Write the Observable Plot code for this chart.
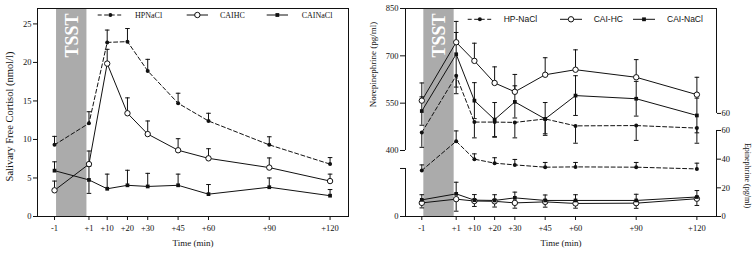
<!DOCTYPE html>
<html>
<head>
<meta charset="utf-8">
<script src="https://cdn.jsdelivr.net/npm/d3@7"></script>
<script src="https://cdn.jsdelivr.net/npm/@observablehq/plot@0.6"></script>
<style>
  html, body { margin: 0; padding: 0; background: #fff; }
  #chart { position: relative; width: 754px; height: 254px; overflow: hidden; background: #fff; }
  #chart > svg { position: absolute; top: 0; }
</style>
</head>
<body>
<div id="chart"></div>
<script>
// ---------- shared categories ----------
const timeLabels = ["-1", "+1", "+10", "+20", "+30", "+45", "+60", "+90", "+120"];
const minutesFromTsstStart = [-1, 16, 25, 35, 45, 60, 75, 105, 135];
const tsstWindow = [0, 15];
const tsstLabel = "TSST";
const xTitle = "Time (min)";
const legendLeftNames = ["HPNaCl", "CAIHC", "CAINaCl"];
const legendRightNames = ["HP-NaCl", "CAI-HC", "CAI-NaCl"];

// ---------- left panel: salivary free cortisol ----------
const cortisolTitle = "Salivary Free Cortisol (nmol/l)";
const cortisolTicks = [0, 5, 10, 15, 20, 25];
const cortisolDomain = [0, 27];
const cortisolHP = [9.3, 12.1, 22.6, 22.7, 18.9, 14.7, 12.4, 9.3, 6.8];
const cortisolHPErrUp = [1.1, 1.5, 1.6, 1.7, 1.5, 1.3, 1.0, 1.05, 0.85];
const cortisolCaiHC = [3.4, 6.8, 19.85, 13.4, 10.7, 8.6, 7.55, 6.35, 4.6];
const cortisolCaiHCErrUp = [1.2, 1.7, 1.85, 2.0, 1.7, 1.5, 1.25, 1.25, 0.9];
const cortisolCaiNaCl = [5.95, 4.75, 3.6, 4.05, 3.9, 4.05, 2.9, 3.8, 2.7];
const cortisolCaiNaClErrUp = [1.15, 1.75, 1.9, 1.95, 1.7, 1.45, 1.25, 1.2, 0.8];
const cortisolCaiNaClErrDown = [0, 1.75, 0, 0, 0, 0, 0, 0, 0];

// ---------- right panel: norepinephrine (left axis) ----------
const neTitle = "Norepinephrine (pg/ml)";
const neTicks = [400, 550, 700, 850];
const neAxisRange = [400, 850];
const neDomain = [190.8, 850];
const neHP = [457, 637, 490, 490, 489, 500, 478, 479, 471];
const neHPErrDown = [47, 57, 50, 48, 49, 47, 55, 47, 48];
const neCaiHC = [558, 743, 684, 614, 586, 640, 656, 632, 577];
const neCaiHCErrUp = [56, 31, 56, 51, 55, 54, 63, 56, 55];
const neCaiNaCl = [525, 705, 558, 498, 554, 500, 574, 564, 511];
const neCaiNaClErr = [45, 104, 57, 54, 51, 52, 63, 55, 55];

// ---------- right panel: epinephrine (right axis) ----------
const epiTitle = "Epinephrine (pg/ml)";
const epiTicks = [0, 20, 40, 60];
const epiAxisRange = [0, 60];
const epiUpperAxisRange = [71.9, 145.1];
const epiUpperTickLabel = "60";
const lowerLeftAxisRange = [0, 33.5];
const epiDomain = [0, 145.1];
const epiHP = [32.1, 52.5, 40, 37.2, 36, 34.4, 34.6, 34.4, 33.2];
const epiHPErrUp = [3.9, 7.2, 3.7, 3.8, 3.8, 3.3, 3.1, 3.3, 4.0];
const epiCaiHC = [9.5, 12.1, 10.8, 10.6, 9.5, 10.2, 9.1, 9.3, 12.4];
const epiCaiHCErrDown = [3.5, 8.4, 3.8, 4.0, 3.7, 3.7, 3.3, 3.6, 4.7];
const epiCaiNaCl = [11.6, 15.8, 11.4, 11.2, 13, 11.2, 11.2, 11.2, 13.6];
const epiCaiNaClErrUp = [3.6, 8.1, 3.9, 4.0, 4.0, 3.8, 4.0, 4.3, 4.5];

// ---------- helpers ----------
const leftXDomain = [-9.4, 144.1];
const rightXDomain = [-9.06, 144.7];
const INK = "#111";
const SERIF = "Liberation Serif, Times New Roman, serif";
const SANS = "Liberation Sans, Arial, sans-serif";
const tickFormat = d => timeLabels[minutesFromTsstStart.indexOf(d)];

const rowsOf = (values, errUp, errDown) => values.map((v, i) => ({
  t: minutesFromTsstStart[i],
  value: v,
  hi: v + (errUp ? errUp[i] : 0),
  lo: v - (errDown ? errDown[i] : 0)
}));

const capSymbol = { draw(ctx) { ctx.moveTo(-2.3, 0); ctx.lineTo(2.3, 0); } };

function seriesMarks(hp, hc, na) {
  const errMarks = [hp, hc, na].flatMap(rows => {
    const up = rows.filter(d => d.hi > d.value);
    const dn = rows.filter(d => d.lo < d.value);
    return [
      Plot.ruleX(up, {x: "t", y1: "value", y2: "hi", stroke: INK, strokeWidth: 1}),
      Plot.dot(up, {x: "t", y: "hi", symbol: capSymbol, stroke: INK, fill: "none", strokeWidth: 1}),
      Plot.ruleX(dn, {x: "t", y1: "value", y2: "lo", stroke: INK, strokeWidth: 1}),
      Plot.dot(dn, {x: "t", y: "lo", symbol: capSymbol, stroke: INK, fill: "none", strokeWidth: 1})
    ];
  });
  return [
    Plot.line(hp, {x: "t", y: "value", stroke: INK, strokeWidth: 1, strokeDasharray: "4,2.5"}),
    Plot.line(hc, {x: "t", y: "value", stroke: INK, strokeWidth: 1}),
    Plot.line(na, {x: "t", y: "value", stroke: INK, strokeWidth: 1}),
    ...errMarks,
    Plot.dot(hp, {x: "t", y: "value", r: 2, fill: INK}),
    Plot.dot(hc, {x: "t", y: "value", r: 2.7, fill: "#fff", stroke: INK, strokeWidth: 1}),
    Plot.dot(na, {x: "t", y: "value", symbol: "square", r: 2.1, fill: INK})
  ];
}

function tsstMarks() {
  return [
    Plot.rect([tsstWindow], {x1: d => d[0], x2: d => d[1], fill: "#ababab"}),
    Plot.text([tsstWindow], {
      x: d => (d[0] + d[1]) / 2, text: () => tsstLabel, frameAnchor: "top",
      rotate: -90, textAnchor: "end", lineAnchor: "middle", dy: 5,
      fill: "#fff", fontWeight: "bold", fontSize: 18, fontFamily: SERIF
    })
  ];
}

function xAxisMarks() {
  return [
    Plot.axisX({ticks: minutesFromTsstStart, tickFormat, tickSize: 4, tickPadding: 4,
      label: null, stroke: INK, fill: INK, fontSize: 8.5, fontFamily: SERIF}),
    Plot.text([xTitle], {frameAnchor: "bottom", dy: 27, fontSize: 9, fill: INK,
      textAnchor: "middle", lineAnchor: "middle", fontFamily: SERIF})
  ];
}

const chart = document.getElementById("chart");
const baseStyle = {background: "transparent", fontFamily: SERIF, fontSize: "8.5px", color: INK, overflow: "visible"};
function place(svg, x) {
  svg.setAttribute("font-family", SERIF);
  svg.style.fontFamily = SERIF;
  svg.style.left = x + "px";
  chart.appendChild(svg);
}

// ---------- left panel ----------
const cHP = rowsOf(cortisolHP, cortisolHPErrUp);
const cHC = rowsOf(cortisolCaiHC, cortisolCaiHCErrUp);
const cNA = rowsOf(cortisolCaiNaCl, cortisolCaiNaClErrUp, cortisolCaiNaClErrDown);

const left = Plot.plot({
  width: 377, height: 254,
  marginLeft: 37, marginRight: 29, marginTop: 8, marginBottom: 38,
  style: baseStyle,
  x: {domain: leftXDomain},
  y: {domain: cortisolDomain},
  marks: [
    ...tsstMarks(),
    Plot.frame({stroke: INK, strokeWidth: 1}),
    ...xAxisMarks(),
    Plot.axisY({ticks: cortisolTicks, tickSize: 4, tickPadding: 2, label: null, stroke: INK, fill: INK, fontFamily: SERIF, fontSize: 8.5}),
    Plot.text([cortisolTitle], {frameAnchor: "left", rotate: -90, dx: -28, dy: 4, fontSize: 10.5, fill: INK,
      textAnchor: "middle", lineAnchor: "middle", fontFamily: SERIF}),
    ...seriesMarks(cHP, cHC, cNA)
  ]
});
place(left, 0);

// ---------- right panel: norepinephrine layer ----------
const nHP = rowsOf(neHP, null, neHPErrDown);
const nHC = rowsOf(neCaiHC, neCaiHCErrUp);
const nNA = rowsOf(neCaiNaCl, neCaiNaClErr, neCaiNaClErr);
const rightMargins = {marginLeft: 28, marginRight: 38, marginTop: 8, marginBottom: 38};

const neLayer = Plot.plot({
  width: 377, height: 254, ...rightMargins,
  style: baseStyle,
  x: {domain: rightXDomain},
  y: {domain: neDomain},
  marks: [
    ...tsstMarks(),
    Plot.frame({anchor: "top", stroke: INK, strokeWidth: 1}),
    Plot.frame({anchor: "bottom", stroke: INK, strokeWidth: 1}),
    Plot.ruleX([rightXDomain[0]], {y1: neAxisRange[0], y2: neAxisRange[1], stroke: INK, strokeWidth: 1}),
    ...xAxisMarks(),
    Plot.axisY({ticks: neTicks, tickSize: 5, tickPadding: 2, label: null, stroke: INK, fill: INK, fontFamily: SERIF, fontSize: 8.5}),
    Plot.text([neTitle], {frameAnchor: "left", rotate: -90, dx: -32, dy: -48, fontSize: 9, fill: INK,
      textAnchor: "middle", lineAnchor: "middle", fontFamily: SERIF}),
    ...seriesMarks(nHP, nHC, nNA)
  ]
});
place(neLayer, 377);

// ---------- right panel: epinephrine layer ----------
const eHP = rowsOf(epiHP, epiHPErrUp);
const eHC = rowsOf(epiCaiHC, null, epiCaiHCErrDown);
const eNA = rowsOf(epiCaiNaCl, epiCaiNaClErrUp);

const epiLayer = Plot.plot({
  width: 377, height: 254, ...rightMargins,
  style: baseStyle,
  x: {domain: rightXDomain, axis: null},
  y: {domain: epiDomain},
  marks: [
    Plot.ruleX([rightXDomain[1]], {y1: epiAxisRange[0], y2: epiAxisRange[1], stroke: INK, strokeWidth: 1}),
    Plot.ruleX([rightXDomain[1]], {y1: epiUpperAxisRange[0], y2: epiUpperAxisRange[1], stroke: INK, strokeWidth: 1}),
    Plot.ruleX([rightXDomain[0]], {y1: lowerLeftAxisRange[0], y2: lowerLeftAxisRange[1], stroke: INK, strokeWidth: 1}),
    Plot.axisY({anchor: "right", ticks: epiTicks, tickSize: 4, tickPadding: 1, label: null, stroke: INK, fill: INK, fontFamily: SERIF, fontSize: 8.5}),
    Plot.axisY({anchor: "right", ticks: [epiUpperAxisRange[0]], tickFormat: () => epiUpperTickLabel, tickSize: 4, tickPadding: 1, label: null, stroke: INK, fill: INK, fontFamily: SERIF, fontSize: 8.5}),
    Plot.axisY({anchor: "left", ticks: [lowerLeftAxisRange[0]], tickSize: 5, tickPadding: 2, label: null, stroke: INK, fill: INK, fontFamily: SERIF, fontSize: 8.5}),
    Plot.axisY({anchor: "left", ticks: [lowerLeftAxisRange[1]], tickFormat: () => "", tickSize: 5, label: null, stroke: INK}),
    Plot.text([epiTitle], {frameAnchor: "right", rotate: 90, dx: 31, dy: 63, fontSize: 8, fill: INK,
      textAnchor: "middle", lineAnchor: "middle", fontFamily: SERIF}),
    ...seriesMarks(eHP, eHC, eNA)
  ]
});
place(epiLayer, 377);

// ---------- legends ----------
const legendSvg = d3.select(chart).append("svg")
  .attr("width", 754).attr("height", 254)
  .style("left", "0px").style("pointer-events", "none");

function drawLegend(names, y, items, family, size) {
  items.forEach((it, i) => {
    const g = legendSvg.append("g");
    g.append("line").attr("x1", it.x1).attr("x2", it.x2).attr("y1", y).attr("y2", y)
      .attr("stroke", INK).attr("stroke-width", 1)
      .attr("stroke-dasharray", i === 0 ? "4,2.5" : null);
    const cx = (it.x1 + it.x2) / 2;
    if (i === 0) g.append("circle").attr("cx", cx).attr("cy", y).attr("r", 2).attr("fill", INK);
    if (i === 1) g.append("circle").attr("cx", cx).attr("cy", y).attr("r", 2.7).attr("fill", "#fff").attr("stroke", INK);
    if (i === 2) g.append("rect").attr("x", cx - 1.9).attr("y", y - 1.9).attr("width", 3.8).attr("height", 3.8).attr("fill", INK);
    g.append("text").attr("x", it.tx).attr("y", y).attr("dy", "0.35em")
      .attr("font-family", family).attr("font-size", size).attr("fill", INK).text(names[i]);
  });
}
drawLegend(legendLeftNames, 15, [
  {x1: 97.7, x2: 123, tx: 135},
  {x1: 186.7, x2: 208, tx: 220},
  {x1: 266.7, x2: 288, tx: 301.7}
], SERIF, 8);
drawLegend(legendRightNames, 19.3, [
  {x1: 467.7, x2: 492, tx: 503.7},
  {x1: 560, x2: 582, tx: 593.7},
  {x1: 633, x2: 655, tx: 667}
], SANS, 8.5);
</script>
</body>
</html>
